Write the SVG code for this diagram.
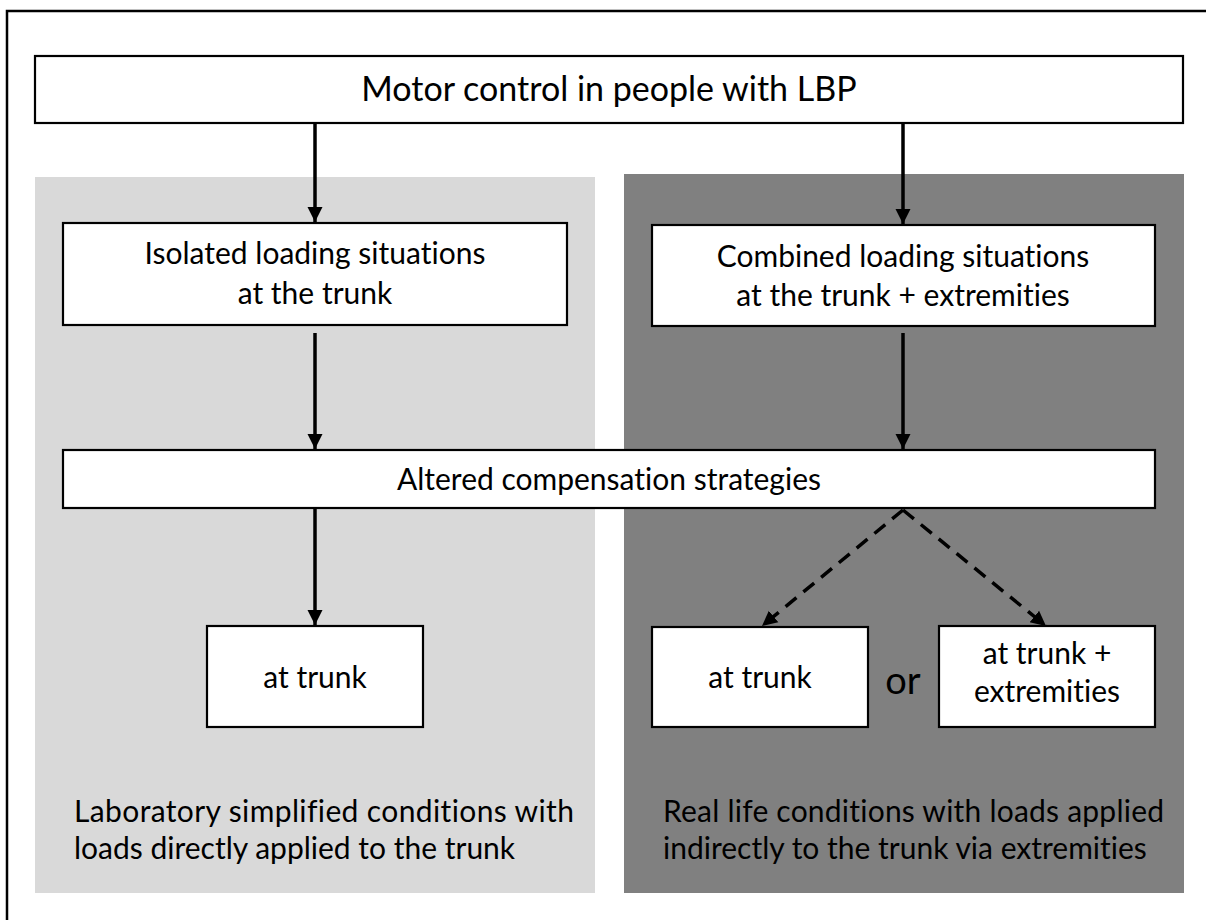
<svg xmlns="http://www.w3.org/2000/svg" width="1206" height="920" viewBox="0 0 1206 920">
<defs>
<style>
text{font-family:Lato,"Open Sans","Liberation Sans",sans-serif;fill:#000;font-variant-ligatures:none;font-feature-settings:"liga" 0,"clig" 0}
.box{fill:#fff;stroke:#000;stroke-width:2.2}
.t32{font-size:30px}
.mid{text-anchor:middle}
.conn{stroke:#000;stroke-width:3.5;fill:none}
.dash{stroke-dasharray:14 9}
</style>
<marker id="ah" markerUnits="userSpaceOnUse" markerWidth="17" markerHeight="17" refX="15" refY="8" orient="auto">
<path d="M0,0.5 L15,8 L0,15.5 z" fill="#000"/>
</marker>
</defs>
<rect width="1206" height="920" fill="#fff"/>
<rect x="7" y="11" width="1215" height="930" fill="none" stroke="#000" stroke-width="2.5"/>
<g id="panel-lab">
<rect x="35" y="177" width="560" height="716" fill="#d9d9d9"/>
<text x="74" y="822" class="t32" textLength="500">Laboratory simplified conditions with</text>
<text x="74" y="859" class="t32">loads directly applied to the trunk</text>
</g>
<g id="panel-real">
<rect x="624" y="174" width="560" height="719" fill="#808080"/>
<text x="663" y="822" class="t32" textLength="501">Real life conditions with loads applied</text>
<text x="663" y="859" class="t32">indirectly to the trunk via extremities</text>
</g>
<g id="n-motor">
<rect x="35" y="56" width="1148" height="67" class="box"/>
<text x="609" y="101" class="mid" style="font-size:34px">Motor control in people with LBP</text>
</g>
<g id="n-isolated">
<rect x="63" y="223" width="504" height="102" class="box"/>
<text x="315" y="264" class="t32 mid">Isolated loading situations</text>
<text x="315" y="304" class="t32 mid">at the trunk</text>
</g>
<g id="n-combined">
<rect x="652" y="225" width="503" height="101" class="box"/>
<text x="903" y="267" class="t32 mid">Combined loading situations</text>
<text x="903" y="306" class="t32 mid">at the trunk + extremities</text>
</g>
<g id="n-altered">
<rect x="63" y="450" width="1092" height="58" class="box"/>
<text x="609" y="490" class="t32 mid">Altered compensation strategies</text>
</g>
<g id="n-trunk-lab">
<rect x="207" y="626" width="216" height="101" class="box"/>
<text x="315" y="688" class="t32 mid">at trunk</text>
</g>
<g id="n-trunk-real">
<rect x="652" y="627" width="216" height="100" class="box"/>
<text x="760" y="688" class="t32 mid">at trunk</text>
</g>
<g id="n-or">
<text x="903" y="694" class="mid" style="font-size:38px">or</text>
</g>
<g id="n-trunk-ext">
<rect x="939" y="626" width="216" height="101" class="box"/>
<text x="1047" y="664" class="t32 mid">at trunk +</text>
<text x="1047" y="702" class="t32 mid">extremities</text>
</g>
<g id="connectors">
<line x1="315" y1="124" x2="315" y2="222" class="conn" marker-end="url(#ah)"/>
<line x1="903" y1="124" x2="903" y2="224" class="conn" marker-end="url(#ah)"/>
<line x1="315" y1="333" x2="315" y2="449" class="conn" marker-end="url(#ah)"/>
<line x1="903" y1="333" x2="903" y2="449" class="conn" marker-end="url(#ah)"/>
<line x1="315" y1="509" x2="315" y2="625" class="conn" marker-end="url(#ah)"/>
<line x1="903" y1="510" x2="762" y2="626" class="conn dash" marker-end="url(#ah)"/>
<line x1="903" y1="510" x2="1046" y2="626" class="conn dash" marker-end="url(#ah)"/>
</g>
</svg>
